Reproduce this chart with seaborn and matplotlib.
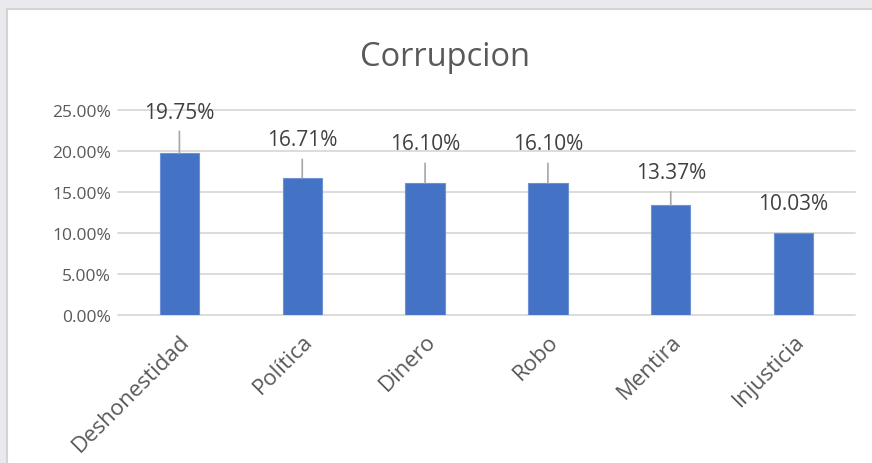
"""Bar chart of words associated with corruption"""

import pandas as pd
import seaborn as sns
import matplotlib.pyplot as plt
from matplotlib.patches import Rectangle

# Data
categories = ["Deshonestidad", "Política", "Dinero", "Robo", "Mentira", "Injusticia"]
values = [19.75, 16.71, 16.10, 16.10, 13.37, 10.03]
value_labels = ["19.75%", "16.71%", "16.10%", "16.10%", "13.37%", "10.03%"]

# Where the data labels sit above each bar (pixels) and whether a leader line shows
label_offsets = [41, 38, 39, 39, 33, 29]
show_leader = [True, True, True, True, True, False]

df = pd.DataFrame({"Palabra": categories, "Porcentaje": values})

sns.set_style("white")
plt.rcParams["font.family"] = ["Open Sans", "DejaVu Sans"]

W, H = 872, 464
fig = plt.figure(figsize=(W / 100, H / 100), dpi=100)
fig.patch.set_facecolor("#e9e9ee")

# White chart area with a light grey frame
frame = Rectangle((7 / W, -0.1), 1.0, 1 - 10 / H + 0.1, transform=fig.transFigure,
                  facecolor="white", edgecolor="#d4d4d4", linewidth=1.5, zorder=-1)
fig.patches.append(frame)

ax = fig.add_axes([118 / W, 1 - 316 / H, 737 / W, 205 / H])
ax.set_facecolor("none")

sns.barplot(data=df, x="Palabra", y="Porcentaje", color="#4472C4", saturation=1,
            width=0.32, edgecolor="#6d91d4", linewidth=0.8, ax=ax, zorder=3)

ax.set_ylim(0, 25)
ax.set_yticks([0, 5, 10, 15, 20, 25])
ax.set_yticklabels([f"{t:.2f}%" for t in [0, 5, 10, 15, 20, 25]])
ax.yaxis.grid(True, color="#d9d9d9", linewidth=1.3)
for gl in ax.get_ygridlines():
    gl.set_clip_on(False)
ax.set_axisbelow(True)
sns.despine(ax=ax, left=True, bottom=True)

ax.set_xlabel("")
ax.set_ylabel("")
ax.tick_params(axis="y", length=0, pad=5, labelsize=12.5, labelcolor="#595959")
ax.tick_params(axis="x", length=0, pad=11, labelsize=16, labelcolor="#595959")
for lab in ax.get_xticklabels():
    lab.set_rotation(45)
    lab.set_ha("right")
    lab.set_rotation_mode("anchor")

# Data labels with leader lines
for i, (v, txt) in enumerate(zip(values, value_labels)):
    props = None
    if show_leader[i]:
        props = dict(arrowstyle="-", color="#a6a6a6", lw=1.2,
                     shrinkA=4, shrinkB=0)
    ax.annotate(txt, xy=(i, v), xytext=(0, label_offsets[i] * 0.72),
                textcoords="offset points", ha="center", va="center",
                fontsize=15, color="#404040", arrowprops=props, zorder=4)

fig.text(445 / W, 1 - 57 / H, "Corrupcion", ha="center", va="center",
         fontsize=23.5, color="#595959")

fig.savefig("out.png", dpi=100, facecolor=fig.get_facecolor())
